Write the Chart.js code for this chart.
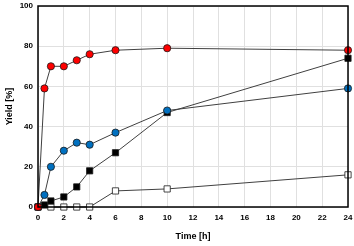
<!DOCTYPE html>
<html>
<head>
<meta charset="utf-8">
<script src="https://cdn.jsdelivr.net/npm/chart.js@4"></script>
<style>
  html, body { margin: 0; padding: 0; background: #fff; }
  #box { width: 354px; height: 246px; }
</style>
</head>
<body>
<div id="box"><canvas id="myChart"></canvas></div>
<script>
'use strict';

let redTimes = [0, 0.5, 1, 2, 3, 4, 6, 10, 24];
let redYield = [0, 59, 70, 70, 73, 76, 78, 79, 78];

let blueTimes = [0, 0.5, 1, 2, 3, 4, 6, 10, 24];
let blueYield = [0, 6, 20, 28, 32, 31, 37, 48, 59];

let blackTimes = [0, 0.5, 1, 2, 3, 4, 6, 10, 24];
let blackYield = [0, 1, 3, 5, 10, 18, 27, 47, 74];

let whiteTimes = [0, 1, 2, 3, 4, 6, 10, 24];
let whiteYield = [0, 0, 0, 0, 0, 8, 9, 16];

let xTicks = [0, 2, 4, 6, 8, 10, 12, 14, 16, 18, 20, 22, 24];
let yTicks = [0, 20, 40, 60, 80, 100];

function toPoints(xs, ys) {
    let pts = [];
    for (let i = 0; i < xs.length; i++) {
        pts.push({ x: xs[i], y: ys[i] });
    }
    return pts;
}

function makeSet(xs, ys, fill, shape, size) {
    return {
        data: toPoints(xs, ys),
        showLine: true,
        borderColor: '#404040',
        borderWidth: 1,
        pointStyle: shape,
        pointRadius: size,
        pointBackgroundColor: fill,
        pointBorderColor: '#1a1a1a',
        pointBorderWidth: 0.8,
        clip: false
    };
}

// box border around the plot area
const frame = {
    id: 'frame',
    afterDraw(chart) {
        let a = chart.chartArea;
        let c = chart.ctx;
        c.save();
        c.strokeStyle = '#000';
        c.lineWidth = 1.5;
        c.strokeRect(a.left, a.top, a.right - a.left, a.bottom - a.top);
        c.restore();
    }
};

let ctx = document.getElementById('myChart').getContext('2d');
let chart = new Chart(ctx, {
    type: 'scatter',
    data: {
        datasets: [
            makeSet(redTimes, redYield, '#ff0000', 'circle', 3.6),
            makeSet(blueTimes, blueYield, '#0070c0', 'circle', 3.6),
            makeSet(blackTimes, blackYield, '#000000', 'rect', 4.4),
            makeSet(whiteTimes, whiteYield, '#ffffff', 'rect', 4.4)
        ]
    },
    options: {
        responsive: true,
        maintainAspectRatio: false,
        animation: false,
        layout: { autoPadding: false, padding: { top: 6, right: 6, left: 0, bottom: 0 } },
        plugins: { legend: { display: false }, tooltip: { enabled: false } },
        scales: {
            x: {
                type: 'linear',
                min: 0,
                max: 24,
                afterBuildTicks: (axis) => { axis.ticks = xTicks.map(v => ({ value: v })); },
                afterFit: (axis) => { axis.height = 39; axis.paddingRight = 0; axis.paddingLeft = 0; },
                grid: { color: '#e0e0e0', drawTicks: false },
                border: { display: false },
                ticks: {
                    color: '#000',
                    padding: 6,
                    font: { family: 'Liberation Sans', size: 8, weight: 'bold' }
                },
                title: {
                    display: true,
                    text: 'Time [h]',
                    color: '#000',
                    padding: { top: 4 },
                    font: { family: 'Liberation Sans', size: 9, weight: 'bold' }
                }
            },
            y: {
                min: 0,
                max: 100,
                afterBuildTicks: (axis) => { axis.ticks = yTicks.map(v => ({ value: v })); },
                afterFit: (axis) => { axis.width = 38; axis.paddingTop = 0; axis.paddingBottom = 0; },
                grid: { color: '#e0e0e0', drawTicks: false },
                border: { display: false },
                ticks: {
                    color: '#000',
                    padding: 5,
                    font: { family: 'Liberation Sans', size: 8, weight: 'bold' }
                },
                title: {
                    display: true,
                    text: 'Yield [%]',
                    color: '#000',
                    padding: { bottom: 2 },
                    font: { family: 'Liberation Sans', size: 9, weight: 'bold' }
                }
            }
        }
    },
    plugins: [frame]
});
</script>
</body>
</html>
